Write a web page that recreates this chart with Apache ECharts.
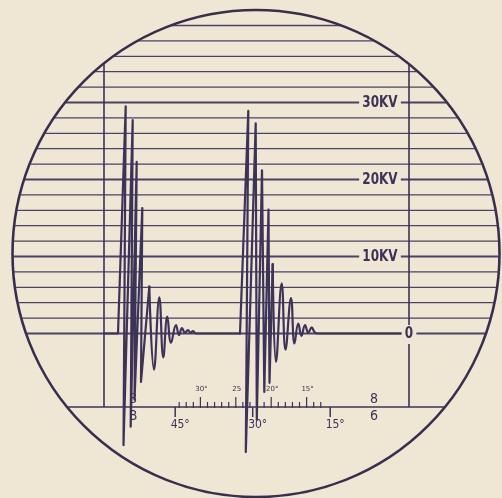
<!DOCTYPE html>
<html>
<head>
<meta charset="utf-8">
<style>
  html, body { margin: 0; padding: 0; background: #efe7d4; }
  #chart { width: 502px; height: 498px; }
</style>
</head>
<body>
<div id="chart"></div>
<script src="https://cdn.jsdelivr.net/npm/echarts@6/dist/echarts.min.js"></script>
<script>
// 水平刻度线 (kV)
const gridLevels = [0, 2, 4, 6, 8, 10, 12, 14, 16, 18, 20, 22, 24, 26, 28, 30, 32, 34, 36, 38, 40]
const boldLevels = [0, 10, 20, 30]
const kvLabels = [30, 20, 10]
const zeroLabel = '0'
// 竖线 (时间轴单位)
const verticalLines = [10.3, 40.8]

// 波形: [t, kV]，尖峰段用折线，衰减段用平滑线
const burst1Spikes = [[10.3, 0], [11.7, 0], [12.47, 29.5], [12.25, -14.5], [13.17, 27.7], [12.97, -12.1],
  [13.57, 22.3], [13.35, -8.6], [14.13, 16.3], [14.0, -6.3], [14.83, 6.1]]
const burst1Tail = [[14.83, 6.1], [15.3, -4.7], [15.83, 4.7], [16.23, -3.1], [16.63, 2.2], [17.0, -1.2],
  [17.5, 1.1], [17.8, -0.2], [18.1, 0.7], [18.4, 0.1], [18.7, 0.45], [18.95, 0.1], [19.2, 0.3], [19.5, 0], [23.9, 0]]
const burst2Spikes = [[23.9, 0], [24.73, 28.9], [24.48, -15.4], [25.47, 27.3], [25.58, -11.2], [26.1, 21.2],
  [26.33, -7.6], [26.75, 16.1], [26.85, -6.4], [27.17, 9.0]]
const burst2Tail = [[27.17, 9.0], [27.5, -3.7], [28.07, 6.5], [28.45, -2.1], [29.0, 4.6], [29.35, -1.3],
  [29.73, 1.3], [30.05, -0.3], [30.4, 1.1], [30.73, 0.1], [31.07, 0.8], [31.35, 0.2], [31.7, 0], [40.3, 0]]

// 相位刻度 (度)
const lowerTicks = [45, 30, 15]
const upperMinorTicks = [13, 14, 15, 16, 17, 18, 19, 20, 21, 22, 23, 24, 25, 26, 27, 28, 29, 30, 31, 32, 33]
const upperMajorTicks = [30, 25, 20, 15]
const upperMajorLabels = ['30°', '25', '20°', '15°']
// 刻度线两侧的标记
const scaleMarks = [{ t: 13.2, above: '8', below: 'B' }, { t: 37.3, above: '8', below: '6' }]

const SCALE_KV = -9.55   // 相位刻度基线所在电平
const LABEL_T = 37.9     // kV 标注位置

const BG = '#efe7d4'
const INK = '#3b3358'
const GRID_INK = '#4a4367'
const FONT = '"DejaVu Sans", sans-serif'

// 荧光屏圆形边框 (像素)
const CX = 256, CY = 253.5, R = 243.5

// 主时间轴 [0, 50] 映射到 grid 宽度
const T_MIN = 0, T_MAX = 50
// 由两个锚点推算相位轴的范围
function degExtent(degA, tA, degB, tB) {
  const k = (degA - degB) / (tA - tB)
  const a = degA + (T_MIN - tA) * k
  const b = degA + (T_MAX - tA) * k
  return { min: Math.min(a, b), max: Math.max(a, b) }
}
const lowerExt = degExtent(45, 17.42, 15, 32.92)
const upperExt = degExtent(30, 19.94, 15, 30.56)

function halfChord(d) {
  const v = R * R - d * d
  return v > 0 ? Math.sqrt(v) : 0
}

// 窄体文字 (横向压缩)
function narrowText(text, x, y, font, squeeze, extra) {
  return {
    type: 'text',
    x: x,
    y: y,
    scaleX: squeeze,
    style: Object.assign({ text: text, x: 0, y: 0, fill: INK, font: font, align: 'center', verticalAlign: 'middle' }, extra || {})
  }
}

const chartEl = document.getElementById('chart')
const myChart = echarts.init(chartEl)

const traceStyle = { color: INK, width: 2.2, join: 'round', cap: 'round' }
function traceSeries(data, smooth) {
  return {
    type: 'line',
    data: data,
    smooth: smooth,
    symbol: 'none',
    clip: false,
    lineStyle: traceStyle,
    z: 4,
    silent: true
  }
}

const options = {
  backgroundColor: BG,
  animation: false,
  grid: { left: 1, right: 1, top: 25.5, bottom: 10.5 },
  xAxis: [
    { type: 'value', min: T_MIN, max: T_MAX, show: false },
    { type: 'value', min: lowerExt.min, max: lowerExt.max, inverse: true, show: false },
    { type: 'value', min: upperExt.min, max: upperExt.max, inverse: true, show: false }
  ],
  yAxis: { type: 'value', min: -20, max: 40, show: false },
  graphic: [{
    type: 'circle',
    silent: true,
    z: 100,
    shape: { cx: CX, cy: CY, r: R },
    style: { fill: null, stroke: '#372f4f', lineWidth: 2.6 }
  }],
  series: [
    // 水平刻度线，按圆形裁剪
    {
      type: 'custom',
      z: 1,
      silent: true,
      data: gridLevels.map(v => [25, v]),
      renderItem(params, api) {
        const lv = api.value(1)
        const y = api.coord([25, lv])[1]
        const dx = halfChord(y - CY) - 1
        const bold = boldLevels.indexOf(lv) >= 0
        return {
          type: 'line',
          shape: { x1: CX - dx, y1: y, x2: CX + dx, y2: y },
          style: { stroke: GRID_INK, lineWidth: bold ? 2 : 1.3 }
        }
      }
    },
    // 左右竖线
    {
      type: 'custom',
      z: 1,
      silent: true,
      data: verticalLines.map(t => [t, SCALE_KV]),
      renderItem(params, api) {
        const p = api.coord([api.value(0), SCALE_KV])
        const top = CY - halfChord(p[0] - CX) + 1
        return {
          type: 'line',
          shape: { x1: p[0], y1: top, x2: p[0], y2: p[1] },
          style: { stroke: INK, lineWidth: 1.6 }
        }
      }
    },
    // 相位刻度基线 + 两侧标记
    {
      type: 'custom',
      z: 2,
      silent: true,
      data: scaleMarks.map(m => [m.t, SCALE_KV]),
      renderItem(params, api) {
        const p = api.coord([api.value(0), SCALE_KV])
        const m = scaleMarks[params.dataIndex]
        const children = [
          narrowText(m.above, p[0], p[1] - 8, '14px ' + FONT, 0.9),
          narrowText(m.below, p[0], p[1] + 9, '14px ' + FONT, 0.9)
        ]
        if (params.dataIndex === 0) {
          const dx = halfChord(p[1] - CY) - 1
          children.push({ type: 'line', shape: { x1: CX - dx, y1: p[1], x2: CX + dx, y2: p[1] }, style: { stroke: INK, lineWidth: 1.6 } })
        }
        return { type: 'group', children }
      }
    },
    // 下方相位刻度 45° 30° 15°
    {
      type: 'custom',
      xAxisIndex: 1,
      z: 2,
      silent: true,
      data: lowerTicks.map(d => [d, SCALE_KV]),
      renderItem(params, api) {
        const deg = api.value(0)
        const p = api.coord([deg, SCALE_KV])
        return {
          type: 'group',
          children: [
            { type: 'line', shape: { x1: p[0], y1: p[1], x2: p[0], y2: p[1] + 10 }, style: { stroke: INK, lineWidth: 1.5 } },
            narrowText(deg + '°', p[0] + 5, p[1] + 18, '12px ' + FONT, 0.9)
          ]
        }
      }
    },
    // 上方细刻度
    {
      type: 'custom',
      xAxisIndex: 2,
      z: 2,
      silent: true,
      data: upperMinorTicks.map(d => [d, SCALE_KV]),
      renderItem(params, api) {
        const deg = api.value(0)
        const p = api.coord([deg, SCALE_KV])
        const k = upperMajorTicks.indexOf(deg)
        const children = [{ type: 'line', shape: { x1: p[0], y1: p[1] + 1, x2: p[0], y2: p[1] - (k >= 0 ? 10 : 5) }, style: { stroke: INK, lineWidth: 1.2 } }]
        if (k >= 0) {
          children.push(narrowText(upperMajorLabels[k], p[0] + 1, p[1] - 18, '7px ' + FONT, 1))
        }
        return { type: 'group', children }
      }
    },
    traceSeries(burst1Spikes, false),
    traceSeries(burst1Tail, 0.45),
    traceSeries(burst2Spikes, false),
    traceSeries(burst2Tail, 0.45),
    // kV 标注，底色遮住刻度线
    {
      type: 'custom',
      z: 6,
      silent: true,
      data: kvLabels.map(v => [LABEL_T, v]).concat([[verticalLines[1], 0]]),
      renderItem(params, api) {
        const p = api.coord([api.value(0), api.value(1)])
        const isZero = params.dataIndex === kvLabels.length
        const text = isZero ? zeroLabel : kvLabels[params.dataIndex] + 'KV'
        return narrowText(text, p[0], p[1] + 1, 'bold 15px ' + FONT, 0.8, {
          backgroundColor: BG,
          padding: isZero ? [2, 4] : [0, 4]
        })
      }
    }
  ]
}

myChart.setOption(options)
</script>
</body>
</html>
